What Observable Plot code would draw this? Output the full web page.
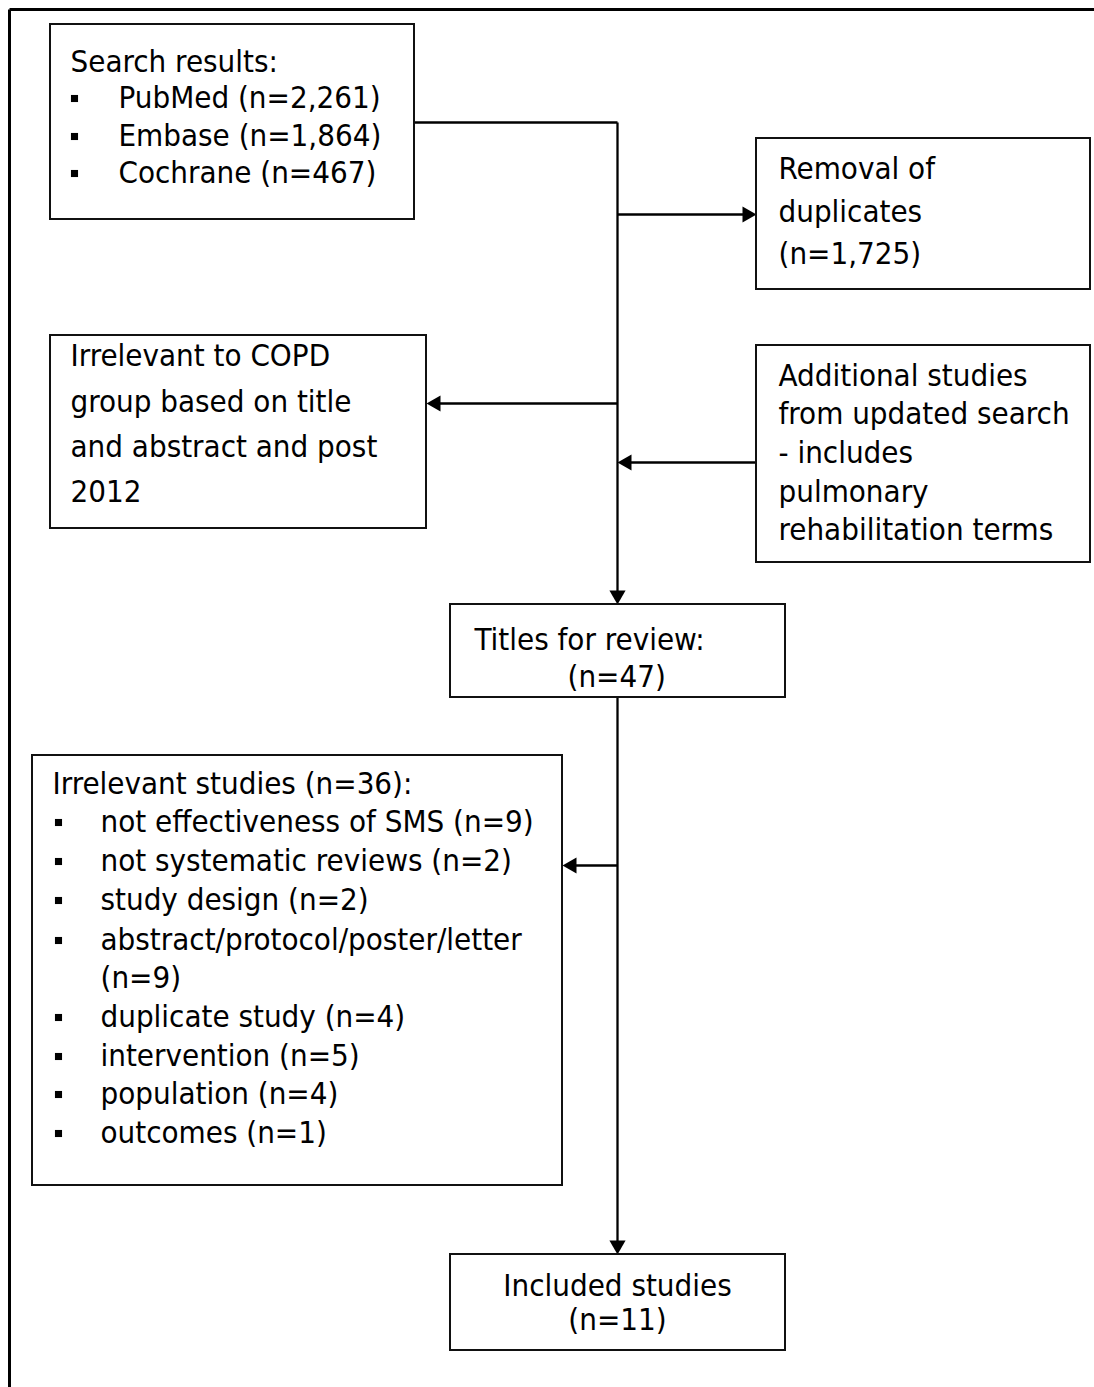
<!DOCTYPE html>
<html><head><meta charset="utf-8">
<script src="https://cdn.jsdelivr.net/npm/d3@7"></script>
<script src="https://cdn.jsdelivr.net/npm/@observablehq/plot@0.6"></script>
<style>body{margin:0;background:#fff}</style>
</head><body><div id="chart"></div>
<script>
// Flow-chart nodes (diagram units = pixels of the original figure)
const nodes = ["search","duplicates","irrelevantCOPD","additional","titles","irrelevantStudies","included"];
const boxX1 = [50, 756, 50, 756, 450, 32, 450];
const boxY1 = [24, 138, 335, 345, 604, 755, 1254];
const boxX2 = [414, 1090, 426, 1090, 785, 562, 785];
const boxY2 = [219, 289, 528, 562, 697, 1185, 1350];

// Text lines
const lineNode = ["search","search","search","search",
  "duplicates","duplicates","duplicates",
  "irrelevantCOPD","irrelevantCOPD","irrelevantCOPD","irrelevantCOPD",
  "additional","additional","additional","additional","additional",
  "titles","titles",
  "irrelevantStudies","irrelevantStudies","irrelevantStudies","irrelevantStudies","irrelevantStudies","irrelevantStudies","irrelevantStudies","irrelevantStudies","irrelevantStudies","irrelevantStudies",
  "included","included"];
const lineText = ["Search results:","PubMed (n=2,261)","Embase (n=1,864)","Cochrane (n=467)",
  "Removal of","duplicates","(n=1,725)",
  "Irrelevant to COPD","group based on title","and abstract and post","2012",
  "Additional studies","from updated search","- includes","pulmonary","rehabilitation terms",
  "Titles for review:","(n=47)",
  "Irrelevant studies (n=36):","not effectiveness of SMS (n=9)","not systematic reviews (n=2)","study design (n=2)","abstract/protocol/poster/letter","(n=9)","duplicate study (n=4)","intervention (n=5)","population (n=4)","outcomes (n=1)",
  "Included studies","(n=11)"];
const lineBullet = [0,1,1,1, 0,0,0, 0,0,0,0, 0,0,0,0,0, 0,0, 0,1,1,1,1,0,1,1,1,1, 0,0];
const lineX = [70,118,118,118, 778,778,778, 70,70,70,70, 778,778,778,778,778, 474,567,
  52,100,100,100,100,100,100,100,100,100, 617,617];
const lineY = [62,98,136,173, 169,212,254, 356,402,447,492, 376,414,453,492,530, 640,677,
  784,822,861,900,940,978,1017,1056,1094,1133, 1286,1320];
const lineCentered = lineNode.map(n => n === "included");
const bulletX = {search: 74, irrelevantStudies: 58};

// Connectors: x1,y1,x2,y2, arrowhead at end?
const segX1 = [414, 617, 617, 617, 756, 617, 617];
const segY1 = [122, 122, 214, 403, 462, 697, 865];
const segX2 = [617, 617, 756, 426, 617, 617, 562];
const segY2 = [122, 604, 214, 403, 462, 1254, 865];
const segArrow = [0, 1, 1, 1, 1, 1, 1];

// Outer frame (top and left border)
const frameX1 = [9, 9];
const frameY1 = [9, 9];
const frameX2 = [1094, 9];
const frameY2 = [9, 1387];

const boxes = nodes.map((n,i)=>({n, x1:boxX1[i], y1:boxY1[i], x2:boxX2[i], y2:boxY2[i]}));
const lines = lineText.map((t,i)=>({t, x:lineX[i], y:lineY[i], c:lineCentered[i], b:lineBullet[i], n:lineNode[i]}));
const bullets = lines.filter(d=>d.b).map(d=>({x: bulletX[d.n], y: d.y}));
const segs = segX1.map((x,i)=>({x1:x, y1:segY1[i], x2:segX2[i], y2:segY2[i], a:segArrow[i]}));
const frame = frameX1.map((x,i)=>({x1:x, y1:frameY1[i], x2:frameX2[i], y2:frameY2[i]}));

// arrowheads (filled triangles) located by direction of each segment
const R = 6;
const hy = Math.sqrt(Math.PI*R*R/(3*Math.sqrt(3)));
const heads = segs.filter(d=>d.a).map(d=>{
  const dx = Math.sign(d.x2-d.x1), dy = Math.sign(d.y2-d.y1);
  const rot = dx>0 ? 90 : dx<0 ? -90 : dy>0 ? 180 : 0;
  return {x: d.x2 - dx*2*hy, y: d.y2 - dy*2*hy, rot};
});
const segsDraw = segs.map(d=>{
  if(!d.a) return d;
  const dx = Math.sign(d.x2-d.x1), dy = Math.sign(d.y2-d.y1);
  return {...d, x2: d.x2 - dx*2*hy, y2: d.y2 - dy*2*hy};
});

const font = "DejaVu Sans Condensed, DejaVu Sans, sans-serif";
const FS = 31;
const chart = Plot.plot({
  width: 1094, height: 1387, margin: 0,
  x: {domain:[0,1094], range:[0,1094], axis:null},
  y: {domain:[0,1387], range:[0,1387], axis:null},
  style: {fontFamily: font, background: "#fff"},
  marks: [
    Plot.link(frame, {x1:"x1", y1:"y1", x2:"x2", y2:"y2", stroke:"#000", strokeWidth:3}),
    Plot.link(segsDraw, {x1:"x1", y1:"y1", x2:"x2", y2:"y2", stroke:"#000", strokeWidth:2.3}),
    Plot.dot(heads, {x:"x", y:"y", rotate:"rot", symbol:"triangle", r:R, fill:"#000", stroke:"none"}),
    Plot.rect(boxes, {x1:"x1", y1:"y1", x2:"x2", y2:"y2", fill:"#fff", stroke:"#111", strokeWidth:2}),
    Plot.dot(bullets, {x:"x", y:"y", symbol:"square", r:4, fill:"#000", stroke:"none"}),
    Plot.text(lines.filter(d=>!d.c), {x:"x", y:"y", text:"t", textAnchor:"start", fontSize:FS, fill:"#000", lineAnchor:"middle"}),
    Plot.text(lines.filter(d=>d.c), {x:"x", y:"y", text:"t", textAnchor:"middle", fontSize:FS, fill:"#000", lineAnchor:"middle"})
  ]
});
document.getElementById("chart").appendChild(chart);
</script>
</body></html>
